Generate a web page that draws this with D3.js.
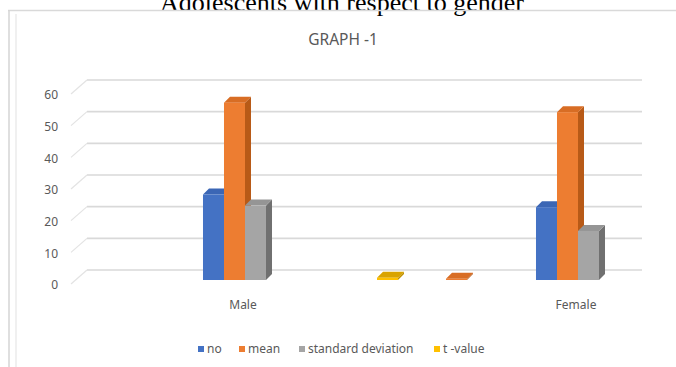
<!DOCTYPE html>
<html>
<head>
<meta charset="utf-8">
<script src="https://cdn.jsdelivr.net/npm/d3@7"></script>
<style>
  html, body { margin: 0; padding: 0; background: #ffffff; }
  svg { display: block; }
</style>
</head>
<body>
<svg id="chart" width="676" height="367"></svg>
<script>
// Categories along the x axis (two unlabeled slots hold the tiny t-value / mean columns)
const categories = ["Male", "", "", "Female"];
const seriesNames = ["no", "mean", "standard deviation", "t -value"];
const noValues    = [27, 0, 0, 23];
const meanValues  = [56, 0, 0.4, 53];
const sdValues    = [23.5, 0, 0, 15.5];
const tValues     = [0, 0.7, 0, 0];
const yTicks = [0, 10, 20, 30, 40, 50, 60];

const seriesValues = [noValues, meanValues, sdValues, tValues];
const colors = {
  front: ["#4472c4", "#ed7d31", "#a5a5a5", "#ffc000"],
  top:   ["#3b66b5", "#d86d24", "#959595", "#d9a300"],
  side:  ["#2f5597", "#b85a17", "#707070", "#bf9000"]
};

const svg = d3.select("#chart");
const textGray = "#595959";

// Page heading above the chart frame (partially cut off at the top)
svg.append("text")
  .attr("x", 342).attr("y", 11)
  .attr("text-anchor", "middle")
  .attr("font-family", "Liberation Serif, Times New Roman, serif")
  .attr("font-size", 26)
  .attr("fill", "#000")
  .text("Adolescents with respect to gender");

// Chart frame
svg.append("line").attr("x1", 8).attr("x2", 676).attr("y1", 10.5).attr("y2", 10.5)
  .attr("stroke", "#d9d9d9").attr("stroke-width", 1.5);
svg.append("line").attr("x1", 9).attr("x2", 9).attr("y1", 10).attr("y2", 367)
  .attr("stroke", "#d4d4d4").attr("stroke-width", 1.5);
svg.append("line").attr("x1", 16).attr("x2", 16).attr("y1", 14).attr("y2", 367)
  .attr("stroke", "#f0f0f0").attr("stroke-width", 2);

// Chart title
svg.append("text")
  .attr("x", 343).attr("y", 45)
  .attr("text-anchor", "middle")
  .attr("font-family", "Noto Sans, sans-serif")
  .attr("font-size", 15.5)
  .attr("fill", textGray)
  .text("GRAPH -1");

// Scales: back wall values, bars sit a little forward of the wall
const y = d3.scaleLinear().domain([0, 60]).range([270, 80]);
const x = d3.scaleBand().domain(d3.range(categories.length))
  .range([189.5, 633.5]).paddingInner(0.243).paddingOuter(0.1215);
const xs = d3.scaleBand().domain(d3.range(seriesNames.length))
  .range([0, x.bandwidth()]).padding(0);

const wallLeft = 87, wallRight = 642;
const sideDX = 16, sideDY = 14;   // left side wall depth
const barShiftY = 10;             // bars stand in front of the back wall
const depthX = 6, depthY = 6;     // visible depth of each column

// Gridlines on back wall and left side wall
const grid = svg.append("g");
yTicks.forEach(t => {
  const gy = y(t);
  grid.append("line")
    .attr("x1", wallLeft).attr("x2", wallRight).attr("y1", gy).attr("y2", gy)
    .attr("stroke", "#d9d9d9").attr("stroke-width", 1.6);
  grid.append("line")
    .attr("x1", wallLeft - sideDX).attr("y1", gy + sideDY)
    .attr("x2", wallLeft).attr("y2", gy)
    .attr("stroke", "#e3e3e3").attr("stroke-width", 1.2);
  grid.append("text")
    .attr("x", 58).attr("y", gy + 15)
    .attr("dy", "0.35em")
    .attr("text-anchor", "end")
    .attr("font-family", "Noto Sans, sans-serif")
    .attr("font-size", 12)
    .attr("fill", textGray)
    .text(t);
});

// 3D columns, drawn left to right so later columns cover earlier side faces
const bars = [];
categories.forEach((c, ci) => {
  seriesValues.forEach((vals, si) => {
    if (vals[ci] > 0) bars.push({ ci, si, v: vals[ci] });
  });
});
const barG = svg.append("g");
bars.forEach(b => {
  const bx = x(b.ci) + xs(b.si);
  const w = xs.bandwidth();
  const yb = y(0) + barShiftY;
  const yt = y(b.v) + barShiftY;
  const g = barG.append("g");
  // side face
  g.append("polygon")
    .attr("points", [[bx + w, yt], [bx + w + depthX, yt - depthY],
                     [bx + w + depthX, yb - depthY], [bx + w, yb]].join(" "))
    .attr("fill", colors.side[b.si]);
  // top face
  g.append("polygon")
    .attr("points", [[bx, yt], [bx + depthX, yt - depthY],
                     [bx + w + depthX, yt - depthY], [bx + w, yt]].join(" "))
    .attr("fill", colors.top[b.si]);
  // front face
  g.append("rect")
    .attr("x", bx).attr("y", yt)
    .attr("width", w).attr("height", Math.max(0, yb - yt))
    .attr("fill", colors.front[b.si]);
});

// Category labels
categories.forEach((c, ci) => {
  if (!c) return;
  svg.append("text")
    .attr("x", x(ci) + x.bandwidth() / 2 - 2)
    .attr("y", 305)
    .attr("dy", "0.35em")
    .attr("text-anchor", "middle")
    .attr("font-family", "Noto Sans, sans-serif")
    .attr("font-size", 12)
    .attr("fill", textGray)
    .text(c);
});

// Legend
const legendX = [198, 239, 299, 434];
const legend = svg.append("g");
seriesNames.forEach((name, i) => {
  legend.append("rect")
    .attr("x", legendX[i]).attr("y", 346)
    .attr("width", 6).attr("height", 6)
    .attr("fill", colors.front[i]);
  legend.append("text")
    .attr("x", legendX[i] + 9).attr("y", 349)
    .attr("dy", "0.35em")
    .attr("font-family", "Noto Sans, sans-serif")
    .attr("font-size", 12)
    .attr("fill", textGray)
    .text(name);
});
</script>
</body>
</html>
